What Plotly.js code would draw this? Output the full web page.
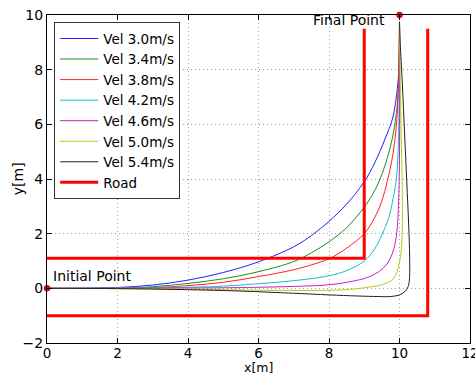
<!DOCTYPE html>
<html><head><meta charset="utf-8">
<script src="https://cdn.plot.ly/plotly-3.0.1.min.js"></script>
<style>html,body{margin:0;padding:0;background:#fff}#chart{width:475px;height:377px}</style>
</head><body><div id="chart"></div>
<script>
// Trajectories for each velocity
const vel30_x = [0, 1, 2, 3, 4, 5, 6, 7, 7.5, 8, 8.5, 9, 9.3, 9.6, 9.8, 9.92, 9.98, 10];
const vel30_y = [0, 0, 0.03, 0.12, 0.3, 0.58, 0.97, 1.52, 1.93, 2.45, 3.08, 3.9, 4.6, 5.5, 6.2, 7.1, 8.0, 9.75];
const vel34_x = [0, 2, 3, 4, 5, 6, 7, 7.5, 8, 8.5, 8.9, 9.2, 9.45, 9.65, 9.8, 9.9, 9.96, 10];
const vel34_y = [0, 0.01, 0.06, 0.18, 0.35, 0.61, 0.98, 1.3, 1.7, 2.22, 2.8, 3.35, 4.0, 4.75, 5.5, 6.3, 7.14, 9.75];
const vel38_x = [0, 3, 4, 5, 6, 7, 7.5, 8, 8.5, 9, 9.3, 9.5, 9.65, 9.8, 9.9, 9.96, 10];
const vel38_y = [0, 0.03, 0.1, 0.22, 0.43, 0.68, 0.86, 1.08, 1.47, 2.0, 2.6, 3.2, 3.9, 4.8, 5.8, 7.0, 9.75];
const vel42_x = [0, 4, 5, 6, 7, 8, 8.5, 9, 9.3, 9.5, 9.7, 9.82, 9.91, 9.96, 9.99, 10];
const vel42_y = [0, 0.04, 0.08, 0.17, 0.28, 0.46, 0.65, 1.0, 1.45, 1.95, 2.6, 3.3, 4.0, 5.0, 7.0, 9.75];
const vel46_x = [0, 5, 6, 7, 8, 8.5, 9, 9.3, 9.55, 9.72, 9.84, 9.92, 9.97, 10, 10];
const vel46_y = [0, 0.02, 0.04, 0.07, 0.13, 0.22, 0.36, 0.52, 0.75, 1.05, 1.45, 2.0, 3.0, 5.0, 9.75];
const vel50_x = [0, 3, 5, 7, 8, 8.6, 9.0, 9.4, 9.65, 9.82, 9.93, 10.0, 10.05, 10.08, 10.08, 10.05, 10.02, 10];
const vel50_y = [0, -0.02, -0.05, -0.08, -0.07, -0.04, 0.02, 0.1, 0.2, 0.35, 0.6, 0.95, 1.4, 2.2, 3.5, 5.5, 7.5, 9.75];
const vel54_x = [0, 2, 4, 5.5, 7, 8, 8.8, 9.4, 9.75, 10.0, 10.15, 10.24, 10.28, 10.29, 10.27, 10.22, 10.15, 10.08, 10.02, 10];
const vel54_y = [0, -0.01, -0.05, -0.1, -0.18, -0.24, -0.28, -0.3, -0.3, -0.24, -0.12, 0.05, 0.3, 0.9, 2.0, 3.5, 5.5, 7.5, 9.0, 9.75];
const seriesNames = ["Vel 3.0m/s", "Vel 3.4m/s", "Vel 3.8m/s", "Vel 4.2m/s", "Vel 4.6m/s", "Vel 5.0m/s", "Vel 5.4m/s"];
const seriesColors = ["#2020ff", "#199119", "#ff2020", "#10c4c4", "#c620c6", "#c4c410", "#202020"];
// Road boundaries
const road_x = [0, 10.8, 10.8, null, 0, 9, 9];
const road_y = [-1, -1, 9.5, null, 1.1, 1.1, 9.5];
// Start / end points
const points_x = [0, 10];
const points_y = [0, 10];
const pointLabels = ["Initial Point", "Final Point"];
const xTicks = [0, 2, 4, 6, 8, 10, 12];
const yTicks = [-2, 0, 2, 4, 6, 8, 10];
const axisTitles = ["x[m]", "y[m]"];

const xs = [vel30_x, vel34_x, vel38_x, vel42_x, vel46_x, vel50_x, vel54_x];
const ys = [vel30_y, vel34_y, vel38_y, vel42_y, vel46_y, vel50_y, vel54_y];
const traces = xs.map((x, i) => ({
  x: x, y: ys[i], type: 'scatter', mode: 'lines', name: seriesNames[i],
  line: {color: seriesColors[i], width: 1, shape: 'spline', smoothing: 1}
}));
traces.push({x: road_x, y: road_y, type: 'scatter', mode: 'lines', name: 'Road',
  line: {color: '#ff0000', width: 3}, connectgaps: false});
traces.push({x: points_x, y: points_y, type: 'scatter', mode: 'markers', showlegend: false,
  marker: {color: '#ff0000', size: 6, line: {color: '#550000', width: 0.5}}, cliponaxis: false});

const FF = 'DejaVu Sans, sans-serif';
const axisCommon = {
  showline: true, linecolor: '#000', linewidth: 1, mirror: 'ticks',
  ticks: 'inside', ticklen: 5, tickcolor: '#000', tickwidth: 1,
  showgrid: true, gridcolor: '#a0a0a0', griddash: '1px,3px', gridwidth: 1,
  zeroline: false, tickfont: {family: FF, size: 14, color: '#000'},
  automargin: false, ticklabeloverflow: 'allow'
};
const layout = {
  width: 475, height: 377,
  margin: {l: 47, r: 5, t: 15, b: 34},
  paper_bgcolor: '#fff', plot_bgcolor: '#fff',
  font: {family: FF, size: 14, color: '#000'},
  showlegend: true,
  legend: {x: 0.017, y: 0.978, xanchor: 'left', yanchor: 'top', bgcolor: '#fff',
    bordercolor: '#333', borderwidth: 1, font: {family: FF, size: 13.5, color: '#000'},
    tracegroupgap: 0, itemwidth: 38},
  xaxis: Object.assign({}, axisCommon, {range: [0, 12], tickvals: xTicks, ticklabelstandoff: -2,
    tickfont: {family: FF, size: 13.5, color: '#000'}}),
  yaxis: Object.assign({}, axisCommon, {range: [-2, 10], tickvals: yTicks}),
  annotations: [
    {x: points_x[0], y: points_y[0], text: pointLabels[0], showarrow: false, xanchor: 'left', yanchor: 'bottom',
      xshift: 4, yshift: 2, font: {family: FF, size: 14, color: '#000'}},
    {x: points_x[1], y: points_y[1], text: pointLabels[1], showarrow: false, xanchor: 'right', yanchor: 'middle',
      xshift: -13, yshift: -5, font: {family: FF, size: 14, color: '#000'}},
    {xref: 'paper', yref: 'paper', x: 0.5, y: -0.1021, text: axisTitles[0], showarrow: false, borderpad: 0,
      xanchor: 'center', yanchor: 'bottom', font: {family: FF, size: 12.5, color: '#000'}},
    {xref: 'paper', yref: 'paper', x: -0.068, y: 0.5, text: axisTitles[1], showarrow: false, textangle: -90,
      xanchor: 'center', yanchor: 'middle', font: {family: FF, size: 14, color: '#000'}}
  ]
};
Plotly.newPlot('chart', traces, layout, {displayModeBar: false, staticPlot: true});
</script></body></html>
